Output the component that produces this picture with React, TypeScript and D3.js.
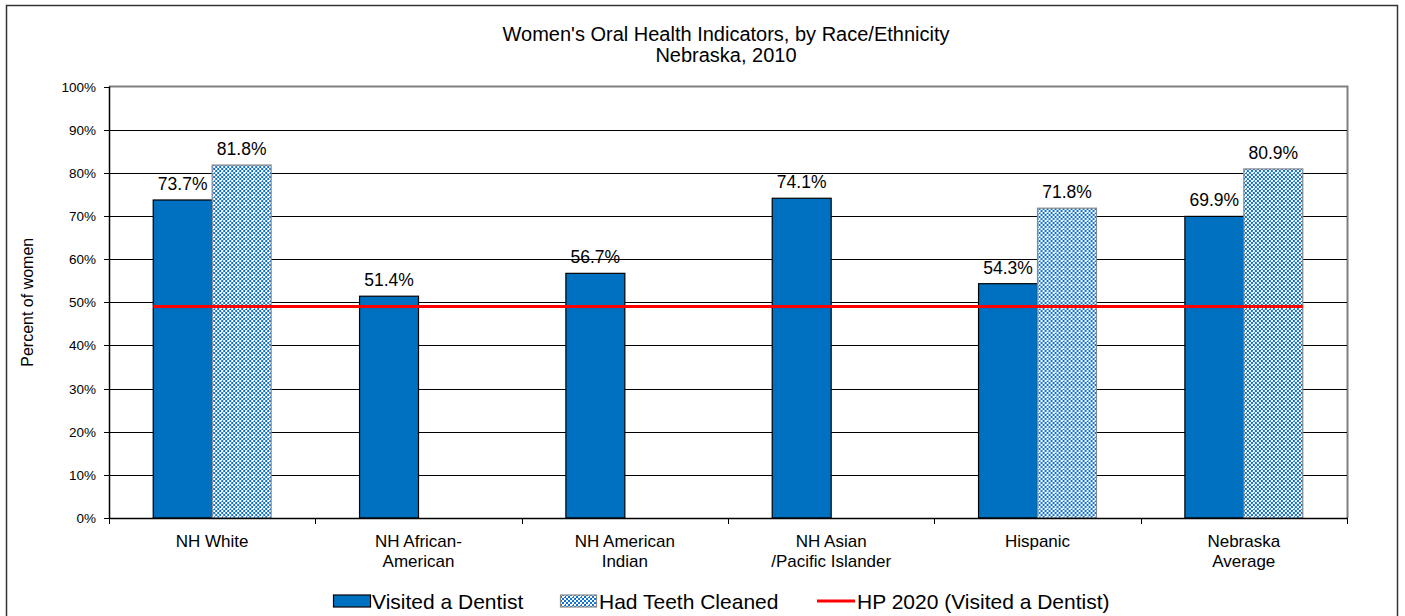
import { useEffect, useRef } from 'react';
import * as d3 from 'd3';

const categories = ['NH White', 'NH African-\nAmerican', 'NH American\nIndian', 'NH Asian\n/Pacific Islander', 'Hispanic', 'Nebraska\nAverage'];
const visited = [73.7, 51.4, 56.7, 74.1, 54.3, 69.9];
const cleaned: (number | null)[] = [81.8, null, null, null, 71.8, 80.9];
const hp2020 = 49;
const yTicks = [0, 10, 20, 30, 40, 50, 60, 70, 80, 90, 100];
const seriesNames = ['Visited a Dentist', 'Had Teeth Cleaned', 'HP 2020 (Visited a Dentist)'];

const W = 1405;
const H = 616;
const FONT = 'Liberation Sans, Arial, sans-serif';

export default function App() {
  const svgRef = useRef<SVGSVGElement>(null);

  useEffect(() => {
    if (!svgRef.current) return;
    const svg = d3.select(svgRef.current);
    svg.selectAll('*').remove();

    const margin = { top: 86.5, right: 58, bottom: 98, left: 109 };
    const plotR = W - margin.right;
    const plotB = H - margin.bottom;

    // checker pattern for the "Had Teeth Cleaned" bars
    const defs = svg.append('defs');
    const pat = defs
      .append('pattern')
      .attr('id', 'checker')
      .attr('patternUnits', 'userSpaceOnUse')
      .attr('width', 8)
      .attr('height', 8);
    pat.append('rect').attr('width', 8).attr('height', 8).attr('fill', '#fff');
    for (let i = 0; i < 4; i++) {
      for (let j = 0; j < 4; j++) {
        if ((i + j) % 2 === 0) {
          pat.append('rect').attr('x', i * 2).attr('y', j * 2).attr('width', 2).attr('height', 2).attr('fill', '#0f73d6');
        }
      }
    }
    pat.append('rect').attr('x', 4).attr('y', 4).attr('width', 1).attr('height', 1).attr('fill', '#fff');

    // outer frame
    svg
      .append('rect')
      .attr('x', 6.5)
      .attr('y', 5.5)
      .attr('width', W - 14)
      .attr('height', H + 10)
      .attr('fill', '#fff')
      .attr('stroke', '#333')
      .attr('stroke-width', 1.5);

    // title
    const title = svg.append('text').attr('text-anchor', 'middle').attr('font-family', FONT).attr('font-size', 20).attr('fill', '#000');
    title.append('tspan').attr('x', 726).attr('y', 41).text("Women's Oral Health Indicators, by Race/Ethnicity");
    title.append('tspan').attr('x', 726).attr('y', 62).text('Nebraska, 2010');

    const x0 = d3
      .scaleBand<string>()
      .domain(categories)
      .range([margin.left, plotR])
      .paddingInner(0.4286)
      .paddingOuter(0.2143);
    const x1 = d3.scaleBand<string>().domain(['v', 'c']).range([0, x0.bandwidth()]);
    const y = d3.scaleLinear().domain([0, 100]).range([plotB, margin.top]);

    // plot area border (grey top/right)
    svg
      .append('path')
      .attr('d', `M${margin.left},${margin.top}H${plotR + 0.5}V${plotB}`)
      .attr('fill', 'none')
      .attr('stroke', '#808080')
      .attr('stroke-width', 2);

    // gridlines
    svg
      .append('g')
      .selectAll('line')
      .data(yTicks.filter((t) => t > 0 && t < 100))
      .join('line')
      .attr('x1', margin.left)
      .attr('x2', plotR)
      .attr('y1', (d) => Math.round(y(d)) + 0.5)
      .attr('y2', (d) => Math.round(y(d)) + 0.5)
      .attr('stroke', '#000')
      .attr('stroke-width', 1);

    // y axis
    const yAxis = svg.append('g');
    yAxis
      .append('line')
      .attr('x1', margin.left + 0.5)
      .attr('x2', margin.left + 0.5)
      .attr('y1', margin.top)
      .attr('y2', plotB)
      .attr('stroke', '#000')
      .attr('stroke-width', 1.5);
    yAxis
      .selectAll('line.tick')
      .data(yTicks)
      .join('line')
      .attr('class', 'tick')
      .attr('x1', margin.left - 5)
      .attr('x2', margin.left)
      .attr('y1', (d) => Math.round(y(d)) + 0.5)
      .attr('y2', (d) => Math.round(y(d)) + 0.5)
      .attr('stroke', '#000');
    yAxis
      .selectAll('text')
      .data(yTicks)
      .join('text')
      .attr('x', margin.left - 13)
      .attr('y', (d) => y(d) + 5)
      .attr('text-anchor', 'end')
      .attr('font-family', FONT)
      .attr('font-size', 13.5)
      .text((d) => `${d}%`);

    svg
      .append('text')
      .attr('transform', `translate(33,${(margin.top + plotB) / 2}) rotate(-90)`)
      .attr('text-anchor', 'middle')
      .attr('font-family', FONT)
      .attr('font-size', 16)
      .text('Percent of women');

    // bars
    const groups = svg
      .append('g')
      .selectAll('g')
      .data(categories)
      .join('g')
      .attr('transform', (d) => `translate(${x0(d)},0)`);

    groups
      .append('rect')
      .attr('x', x1('v')!)
      .attr('width', x1.bandwidth())
      .attr('y', (_, i) => y(visited[i]))
      .attr('height', (_, i) => plotB - y(visited[i]))
      .attr('fill', '#0070c0')
      .attr('stroke', '#000')
      .attr('stroke-width', 1.2);

    groups
      .filter((_, i) => cleaned[i] != null)
      .append('rect')
      .attr('x', x1('c')!)
      .attr('width', x1.bandwidth())
      .attr('y', (d) => y(cleaned[categories.indexOf(d)]!))
      .attr('height', (d) => plotB - y(cleaned[categories.indexOf(d)]!))
      .attr('fill', 'url(#checker)')
      .attr('stroke', '#888')
      .attr('stroke-width', 1.2);

    // data labels
    groups
      .append('text')
      .attr('x', x1('v')! + x1.bandwidth() / 2)
      .attr('y', (_, i) => y(visited[i]) - 10)
      .attr('text-anchor', 'middle')
      .attr('font-family', FONT)
      .attr('font-size', 17.5)
      .text((_, i) => `${visited[i].toFixed(1)}%`);
    groups
      .filter((_, i) => cleaned[i] != null)
      .append('text')
      .attr('x', x1('c')! + x1.bandwidth() / 2)
      .attr('y', (d) => y(cleaned[categories.indexOf(d)]!) - 10)
      .attr('text-anchor', 'middle')
      .attr('font-family', FONT)
      .attr('font-size', 17.5)
      .text((d) => `${cleaned[categories.indexOf(d)]!.toFixed(1)}%`);

    // HP 2020 target line
    const first = categories[0];
    const last = categories[categories.length - 1];
    svg
      .append('line')
      .attr('x1', x0(first)!)
      .attr('x2', x0(last)! + x0.bandwidth())
      .attr('y1', y(hp2020))
      .attr('y2', y(hp2020))
      .attr('stroke', '#ff0000')
      .attr('stroke-width', 3);

    // x axis
    const xAxis = svg.append('g');
    xAxis
      .append('line')
      .attr('x1', margin.left)
      .attr('x2', plotR + 1)
      .attr('y1', plotB + 0.5)
      .attr('y2', plotB + 0.5)
      .attr('stroke', '#000')
      .attr('stroke-width', 1.5);
    const step = x0.step();
    const bounds = d3.range(categories.length + 1).map((i) => margin.left + i * step);
    xAxis
      .selectAll('line.tick')
      .data(bounds)
      .join('line')
      .attr('class', 'tick')
      .attr('x1', (d) => Math.round(d) + 0.5)
      .attr('x2', (d) => Math.round(d) + 0.5)
      .attr('y1', plotB)
      .attr('y2', plotB + 6)
      .attr('stroke', '#000');
    const catLabels = xAxis
      .selectAll('text')
      .data(categories)
      .join('text')
      .attr('text-anchor', 'middle')
      .attr('font-family', FONT)
      .attr('font-size', 17);
    catLabels.each(function (d) {
      const t = d3.select(this);
      const cx = x0(d)! + x0.bandwidth() / 2;
      d.split('\n').forEach((line, k) => {
        t.append('tspan').attr('x', cx).attr('y', plotB + 29 + k * 20).text(line);
      });
    });

    // legend
    const leg = svg.append('g').attr('font-family', FONT).attr('font-size', 21);
    const ly = 601;
    leg.append('rect').attr('x', 333.5).attr('y', ly - 6).attr('width', 37).attr('height', 12).attr('fill', '#0070c0').attr('stroke', '#000').attr('stroke-width', 1.2);
    leg.append('text').attr('x', 372).attr('y', ly + 8).text(seriesNames[0]);
    leg.append('rect').attr('x', 560.5).attr('y', ly - 6).attr('width', 36).attr('height', 12).attr('fill', 'url(#checker)').attr('stroke', '#888').attr('stroke-width', 1.2);
    leg.append('text').attr('x', 599).attr('y', ly + 8).text(seriesNames[1]);
    leg.append('line').attr('x1', 817).attr('x2', 855).attr('y1', ly).attr('y2', ly).attr('stroke', '#ff0000').attr('stroke-width', 3);
    leg.append('text').attr('x', 857).attr('y', ly + 8).text(seriesNames[2]);
  }, []);

  return (
    <div style={{ position: 'absolute', left: 0, top: 0 }}>
      <svg ref={svgRef} width={W} height={H} style={{ display: 'block', background: '#fff' }} />
    </div>
  );
}
